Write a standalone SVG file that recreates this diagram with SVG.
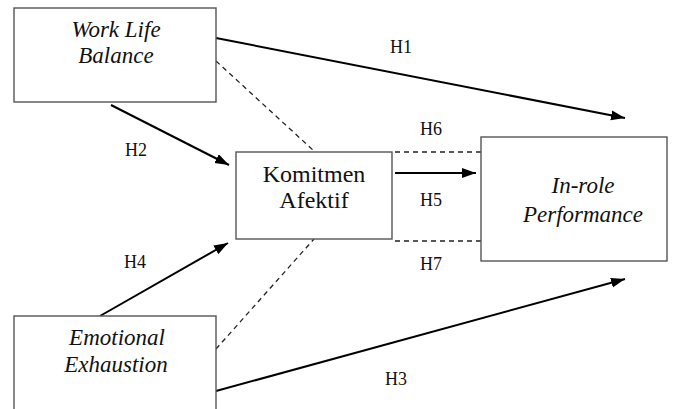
<svg xmlns="http://www.w3.org/2000/svg" width="673" height="409" viewBox="0 0 673 409">
<defs>
<marker id="ah" markerUnits="userSpaceOnUse" markerWidth="16" markerHeight="12" refX="14" refY="5" orient="auto">
<path d="M0,0 L14,5 L0,10 Z" fill="#000"/>
</marker>
</defs>
<rect width="673" height="409" fill="#fff"/>
<g id="connectors">
<g stroke="#000" stroke-width="2" fill="none">
<line x1="216" y1="38" x2="625" y2="118" marker-end="url(#ah)"/>
<line x1="111" y1="105" x2="229" y2="165" marker-end="url(#ah)"/>
<line x1="395" y1="173" x2="476" y2="173" marker-end="url(#ah)"/>
<line x1="100" y1="316" x2="228" y2="243" marker-end="url(#ah)"/>
<line x1="216" y1="391" x2="625" y2="279" marker-end="url(#ah)"/>
</g>
<g stroke="#222" stroke-width="1.3" fill="none" stroke-dasharray="5,4">
<line x1="216" y1="61" x2="314" y2="151"/>
<line x1="395" y1="152" x2="481" y2="152"/>
<line x1="395" y1="241" x2="481" y2="241"/>
<line x1="216" y1="349" x2="314" y2="239"/>
</g>
<text x="401" y="53" font-size="18" font-family="Times New Roman" text-anchor="middle" fill="#111">H1</text>
<text x="136" y="156" font-size="18" font-family="Times New Roman" text-anchor="middle" fill="#111">H2</text>
<text x="396" y="385" font-size="18" font-family="Times New Roman" text-anchor="middle" fill="#111">H3</text>
<text x="135" y="268" font-size="18" font-family="Times New Roman" text-anchor="middle" fill="#111">H4</text>
<text x="431" y="206" font-size="18" font-family="Times New Roman" text-anchor="middle" fill="#111">H5</text>
<text x="431" y="135" font-size="18" font-family="Times New Roman" text-anchor="middle" fill="#111">H6</text>
<text x="431" y="270" font-size="18" font-family="Times New Roman" text-anchor="middle" fill="#111">H7</text>
</g>
<g id="wlb">
<rect x="14" y="8" width="202" height="94" fill="#fff" stroke="#555" stroke-width="1.4"/>
<text x="116" y="37" font-size="23" font-family="Times New Roman" font-style="italic" text-anchor="middle" fill="#111">Work Life</text>
<text x="116" y="63" font-size="23" font-family="Times New Roman" font-style="italic" text-anchor="middle" fill="#111">Balance</text>
</g>
<g id="ka">
<rect x="236" y="152" width="156" height="87" fill="#fff" stroke="#555" stroke-width="1.4"/>
<text x="314" y="182" font-size="24" font-family="Times New Roman" text-anchor="middle" fill="#111">Komitmen</text>
<text x="314" y="208" font-size="24" font-family="Times New Roman" text-anchor="middle" fill="#111">Afektif</text>
</g>
<g id="irp">
<rect x="481" y="137" width="186" height="124" fill="#fff" stroke="#555" stroke-width="1.4"/>
<text x="583" y="193" font-size="23" font-family="Times New Roman" font-style="italic" text-anchor="middle" fill="#111">In-role</text>
<text x="583" y="222" font-size="23" font-family="Times New Roman" font-style="italic" text-anchor="middle" fill="#111">Performance</text>
</g>
<g id="ee">
<rect x="14" y="316" width="202" height="100" fill="#fff" stroke="#555" stroke-width="1.4"/>
<text x="117" y="345" font-size="23" font-family="Times New Roman" font-style="italic" text-anchor="middle" fill="#111">Emotional</text>
<text x="116" y="372" font-size="23" font-family="Times New Roman" font-style="italic" text-anchor="middle" fill="#111">Exhaustion</text>
</g>
</svg>
